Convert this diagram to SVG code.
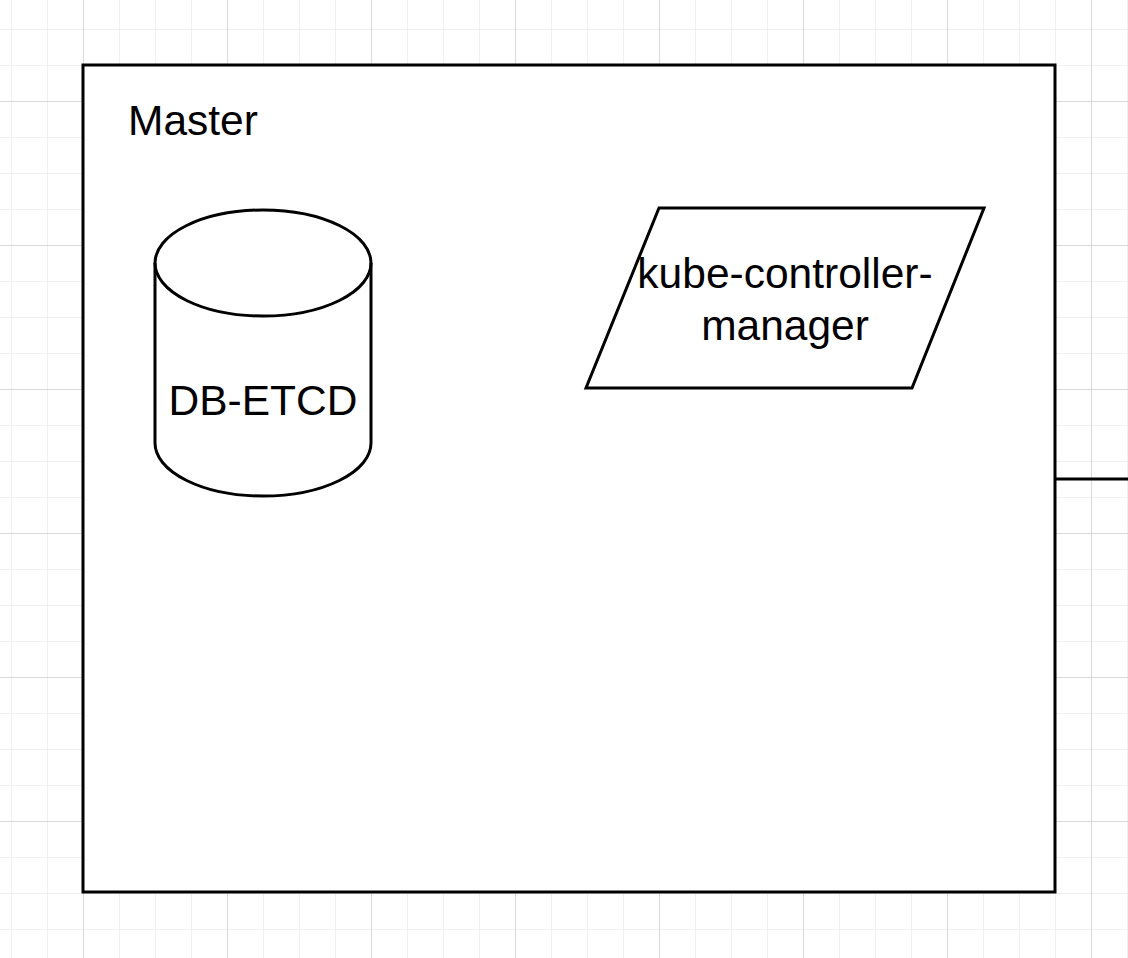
<svg xmlns="http://www.w3.org/2000/svg" width="1128" height="958" viewBox="0 0 1128 958">
<defs>
<pattern id="minor" x="11" y="29" width="36" height="36" patternUnits="userSpaceOnUse">
<path d="M0.5 0 V36 M0 0.5 H36" fill="none" stroke="#f0f0f0" stroke-width="1"/>
</pattern>
<pattern id="major" x="83" y="101" width="144" height="144" patternUnits="userSpaceOnUse">
<path d="M0.5 0 V144 M0 0.5 H144" fill="none" stroke="#d9d9d9" stroke-width="1"/>
</pattern>
</defs>
<style>
.shape{fill:#ffffff;stroke:#000000;stroke-width:3}
.line{fill:none;stroke:#000000;stroke-width:3}
.lbl{font-family:"Liberation Sans",Arial,Helvetica,sans-serif;font-size:42.5px;fill:#000000}
</style>
<rect width="1128" height="958" fill="#ffffff"/>
<rect width="1128" height="958" fill="url(#minor)"/>
<rect width="1128" height="958" fill="url(#major)"/>
<g id="connectors">
<path class="line" d="M1055 479 H1128"/>
</g>
<g id="master">
<rect class="shape" x="83" y="65" width="972" height="827"/>
<text class="lbl" x="128" y="135">Master</text>
</g>
<g id="db-etcd">
<path class="shape" d="M155 263 A108 53 0 0 1 371 263 V443 A108 53 0 0 1 155 443 Z"/>
<path class="line" d="M155 263 A108 53 0 0 0 371 263"/>
<text class="lbl" x="263" y="415" text-anchor="middle">DB-ETCD</text>
</g>
<g id="kube-controller-manager">
<polygon class="shape" points="659,208 984,208 912,388 586,388"/>
<text class="lbl" text-anchor="middle"><tspan x="785" y="288">kube-controller-</tspan><tspan x="785" y="340">manager</tspan></text>
</g>
</svg>
